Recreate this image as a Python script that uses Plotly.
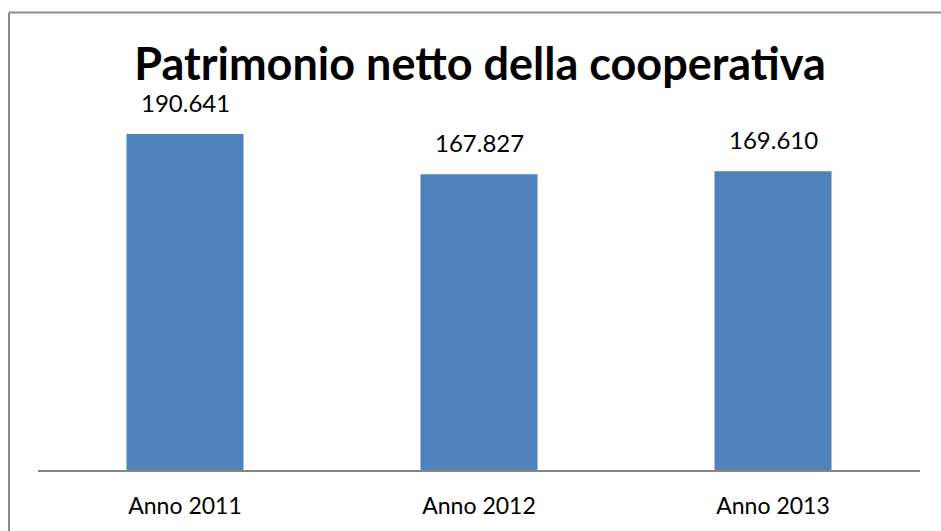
import plotly.graph_objects as go

# Dati del grafico
anni = ["Anno 2011", "Anno 2012", "Anno 2013"]
patrimonio = [190641, 167827, 169610]
titolo = "Patrimonio netto della cooperativa"


def formato_it(v):
    return f"{v:,}".replace(",", ".")


etichette = [formato_it(v) for v in patrimonio]

FONT = "Lato"
BLU = "#4F81BD"
GRIGIO = "#8C8C8C"

fig = go.Figure(
    go.Bar(
        x=anni,
        y=patrimonio,
        marker=dict(color=BLU, line=dict(width=0)),
        hoverinfo="skip",
    )
)

# Etichette dei valori sopra le colonne
for a, v, t in zip(anni, patrimonio, etichette):
    fig.add_annotation(
        x=a, y=v, text=t, showarrow=False,
        xref="x", yref="y", yanchor="bottom", yshift=15,
        font=dict(family=FONT, size=24, color="#000000"),
    )

# Cornice del grafico (bordo superiore e sinistro)
ML, MR, MT, MB = 38, 21, 100, 61
W, H = 941, 531
pw, ph = W - ML - MR, H - MT - MB


def px_x(x):
    return (x - ML) / pw


def px_y(y):
    return (H - MB - y) / ph


fig.add_shape(type="line", xref="paper", yref="paper",
              x0=px_x(9), x1=px_x(941), y0=px_y(12.5), y1=px_y(12.5),
              line=dict(color=GRIGIO, width=2))
fig.add_shape(type="line", xref="paper", yref="paper",
              x0=px_x(9), x1=px_x(9), y0=px_y(12.5), y1=px_y(531),
              line=dict(color=GRIGIO, width=2))

fig.update_layout(
    width=W, height=H,
    margin=dict(l=ML, r=MR, t=MT, b=MB, autoexpand=False),
    paper_bgcolor="white",
    plot_bgcolor="white",
    bargap=0.602,
    showlegend=False,
    title=dict(
        text=f"<b>{titolo}</b>",
        x=480 / W, xanchor="center",
        y=1 - 64 / H, yanchor="middle",
        font=dict(family=FONT, size=45, color="#000000"),
    ),
    xaxis=dict(
        automargin=False,
        showline=True, linecolor="#868686", linewidth=2,
        ticks="outside", ticklen=14, tickcolor="rgba(0,0,0,0)",
        tickfont=dict(family=FONT, size=23, color="#000000"),
        showgrid=False, zeroline=False,
    ),
    yaxis=dict(
        automargin=False,
        range=[0, 210000], visible=False, showgrid=False, zeroline=False,
    ),
)

fig.write_html("out.html")
